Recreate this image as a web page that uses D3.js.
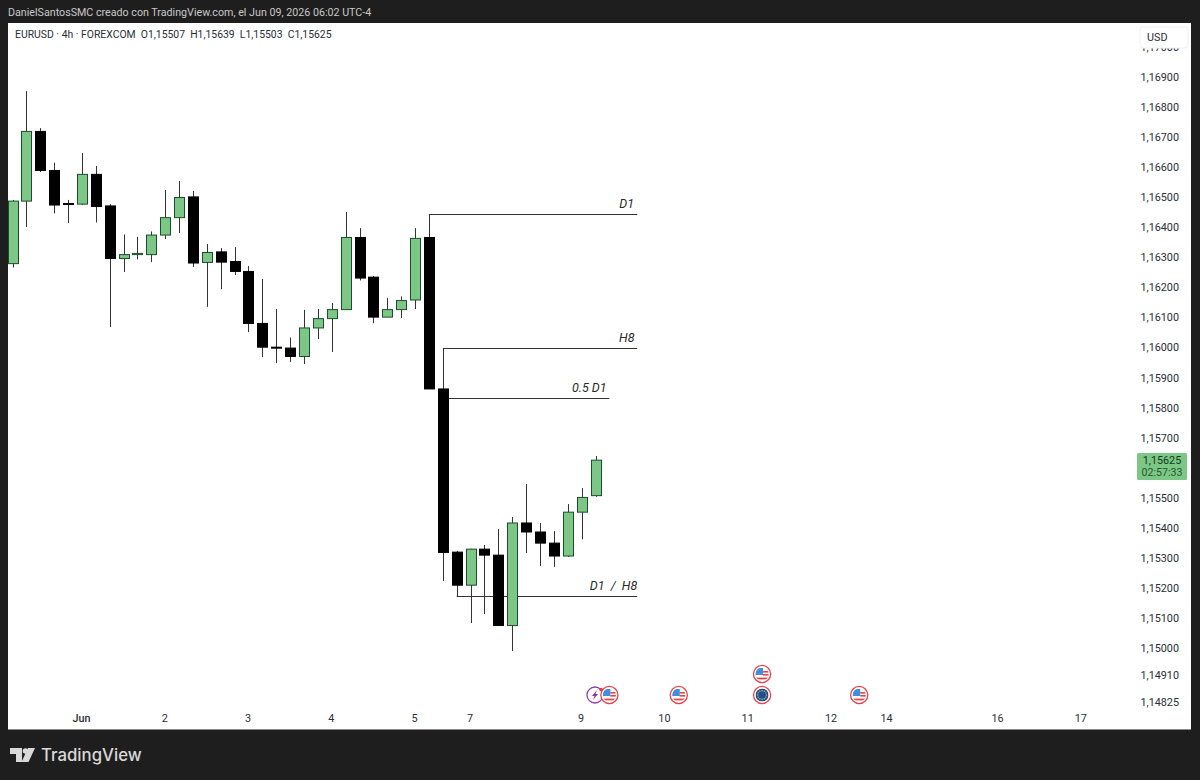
<!DOCTYPE html>
<html>
<head>
<meta charset="utf-8">
<script src="https://cdn.jsdelivr.net/npm/d3@7"></script>
<style>
html,body{margin:0;padding:0;background:#1e1e1e;}
svg{display:block;}
text{font-family:Roboto,"Open Sans",sans-serif;}
</style>
</head>
<body>
<svg id="chart" width="1200" height="780"></svg>
<script>
// ---- data (prices) ----
const opens  = [1.16279,1.16487,1.16719,1.16589,1.16479,1.16477,1.16576,1.16471,1.16296,1.16309,1.16309,1.16374,1.16432,1.16501,1.16283,1.16318,1.16286,1.16253,1.16080,1.16001,1.15998,1.15970,1.16065,1.16096,1.16126,1.16366,1.16234,1.16101,1.16126,1.16158,1.16366,1.15862,1.15319,1.15209,1.15329,1.15309,1.15075,1.15416,1.15386,1.15349,1.15306,1.15452,1.15507];
const highs  = [1.16491,1.16853,1.16730,1.16615,1.16491,1.16647,1.16604,1.16477,1.16376,1.16368,1.16386,1.16524,1.16554,1.16521,1.16344,1.16331,1.16334,1.16271,1.16228,1.16128,1.16033,1.16125,1.16128,1.16148,1.16451,1.16397,1.16238,1.16165,1.16170,1.16397,1.16441,1.15995,1.15323,1.15330,1.15343,1.15396,1.15436,1.15546,1.15416,1.15389,1.15479,1.15532,1.15639];
const lows   = [1.16266,1.16401,1.16584,1.16446,1.16414,1.16474,1.16416,1.16068,1.16251,1.16293,1.16284,1.16361,1.16381,1.16268,1.16135,1.16194,1.16241,1.16051,1.15968,1.15948,1.15952,1.15945,1.16028,1.15985,1.16125,1.16223,1.16081,1.16101,1.16098,1.16128,1.15862,1.15223,1.15173,1.15083,1.15113,1.15075,1.14990,1.15316,1.15273,1.15270,1.15303,1.15362,1.15503];
const closes = [1.16487,1.16719,1.16589,1.16474,1.16476,1.16576,1.16469,1.16296,1.16309,1.16313,1.16374,1.16432,1.16499,1.16281,1.16316,1.16284,1.16253,1.16080,1.16001,1.15998,1.15970,1.16065,1.16096,1.16126,1.16366,1.16231,1.16101,1.16126,1.16156,1.16363,1.15862,1.15318,1.15209,1.15329,1.15309,1.15075,1.15416,1.15386,1.15349,1.15306,1.15452,1.15501,1.15625];

const priceTicks = [1.17,1.169,1.168,1.167,1.166,1.165,1.164,1.163,1.162,1.161,1.16,1.159,1.158,1.157,1.155,1.154,1.153,1.152,1.151,1.15,1.1491,1.14825];
const timeTickLabels = ["Jun","2","3","4","5","7","9","10","11","12","14","16","17"];
const timeTickBars   = [5,11,17,23,29,33,41,47,53,59,63,71,77];

const levelNames  = ["D1","H8","0.5 D1","D1 / H8"];
const levelPrices = [1.16441,1.15995,1.15830,1.15173];
const levelStart  = [30,31,31.45,32];
const levelEnd    = [45,45,43,45];
const levelLabelBar = [44.25,44.25,41.55,43.3];

const eventBars = [42,43,48,54,54,61];
const eventRows = [0,0,0,1,0,0];
const eventKinds= ["bolt","us","us","us","eu","us"];

const lastPriceText = "1,15625";
const countdownText = "02:57:33";
const headerText = "DanielSantosSMC creado con TradingView.com, el Jun 09, 2026 06:02 UTC-4";
const legendText = "EURUSD · 4h · FOREXCOM  O1,15507  H1,15639  L1,15503  C1,15625";
const currencyText = "USD";
const brandText = "TradingView";

// ---- scales ----
const x = d3.scaleLinear().domain([0,42]).range([12.5,595.5]);
const y = d3.scaleLinear().domain([1.169,1.15]).range([77,648]);
const fmt = v => d3.format(".5f")(v).replace(".",",");

const svg = d3.select("#chart");
const UP="#7dc786", UPB="#1d4d2c", DOWN="#000000", WICK="#333333", TXT="#2a2e39";

svg.append("rect").attr("width",1200).attr("height",780).attr("fill","#1e1e1e");
svg.append("rect").attr("x",8).attr("y",23).attr("width",1183).attr("height",706).attr("fill","#ffffff");
svg.append("line").attr("x1",8).attr("x2",1191).attr("y1",729.5).attr("y2",729.5).attr("stroke","#8a8a8a").attr("stroke-width",1);

const defs = svg.append("defs");
defs.append("clipPath").attr("id","plot").append("rect").attr("x",8).attr("y",23).attr("width",1125).attr("height",706);
defs.append("clipPath").attr("id","disc").append("circle").attr("r",6.6);

// header
svg.append("text").attr("x",8).attr("y",16).attr("fill","#c9c9c9").attr("font-size",10.7).text(headerText);
svg.append("text").attr("x",15).attr("y",38).attr("fill",TXT).attr("font-size",10.4).attr("xml:space","preserve").style("white-space","pre").text(legendText);

// levels (under the candles)
const plot = svg.append("g").attr("clip-path","url(#plot)");
const lv = plot.append("g").selectAll("g").data(levelNames).join("g");
lv.append("line")
  .attr("x1",(d,i)=>x(levelStart[i])).attr("x2",(d,i)=>x(levelEnd[i]))
  .attr("y1",(d,i)=>Math.floor(y(levelPrices[i]))+0.5).attr("y2",(d,i)=>Math.floor(y(levelPrices[i]))+0.5)
  .attr("stroke","#333").attr("stroke-width",1);

// candles
const idx = d3.range(opens.length);
const c = plot.append("g").selectAll("g").data(idx).join("g");
c.append("line")
  .attr("x1",i=>Math.round(x(i))+0.5).attr("x2",i=>Math.round(x(i))+0.5)
  .attr("y1",i=>y(highs[i])).attr("y2",i=>y(lows[i]))
  .attr("stroke",WICK).attr("stroke-width",1);
c.append("rect")
  .attr("x",i=>Math.round(x(i))-4.5).attr("width",10)
  .attr("y",i=>y(Math.max(opens[i],closes[i])))
  .attr("height",i=>Math.max(1,Math.abs(y(opens[i])-y(closes[i]))))
  .attr("fill",i=>closes[i]>=opens[i]?UP:DOWN)
  .attr("stroke",i=>closes[i]>=opens[i]?UPB:DOWN)
  .attr("stroke-width",1);

// level labels
svg.append("g").selectAll("text").data(levelNames).join("text")
  .attr("x",(d,i)=>x(levelLabelBar[i]))
  .attr("y",(d,i)=>y(levelPrices[i])-6.5)
  .attr("text-anchor","middle").attr("font-style","italic")
  .attr("font-size",12.5).attr("fill","#2a2a2a").attr("xml:space","preserve").style("white-space","pre")
  .text(d=>d==="D1 / H8"?"D1  /  H8":d);

// price axis
svg.append("g").selectAll("text").data(priceTicks).join("text")
  .attr("x",1179).attr("y",d=>y(d)+(d===1.14825?5.3:4))
  .attr("text-anchor","end")
  .attr("font-size",10.8).attr("fill",TXT).text(fmt);

// time axis
svg.append("g").selectAll("text").data(timeTickLabels).join("text")
  .attr("x",(d,i)=>x(timeTickBars[i])-0.5).attr("y",722).attr("text-anchor","middle")
  .attr("font-size",10.8).attr("fill",TXT)
  .attr("font-weight",d=>d==="Jun"?500:400).text(d=>d);

// USD button
svg.append("rect").attr("x",1140).attr("y",27).attr("width",48).attr("height",21).attr("rx",3)
  .attr("fill","#fff").attr("stroke","#f0f0f0");
svg.append("text").attr("x",1147).attr("y",41).attr("font-size",10.8).attr("fill",TXT).text(currencyText);

// last price tag
svg.append("rect").attr("x",1137).attr("y",453).attr("width",50).attr("height",27).attr("rx",1.5).attr("fill",UP);
svg.append("text").attr("x",1162).attr("y",464).attr("text-anchor","middle").attr("font-size",10.8).attr("fill","#123a1c").text(lastPriceText);
svg.append("text").attr("x",1162).attr("y",476).attr("text-anchor","middle").attr("font-size",10.6).attr("fill","#1f5a2d").text(countdownText);

// events
const ev = svg.append("g").selectAll("g").data(eventBars).join("g")
  .attr("transform",(d,i)=>`translate(${x(d)+(eventKinds[i]==="bolt"?-0.5:0)},${695-eventRows[i]*21})`);
ev.each(function(d,i){
  const g = d3.select(this), k = eventKinds[i];
  if(k==="bolt"){
    g.append("circle").attr("r",8).attr("fill","#fff").attr("stroke","#8b3fb5").attr("stroke-width",1.3);
    g.append("path").attr("d","M2,-5 L-3,1 L-0.5,1 L-2,5 L3,-1 L0.5,-1 Z").attr("fill","#8e2fb8");
    g.append("circle").attr("cx",6).attr("cy",-5.5).attr("r",1.8).attr("fill","#e8384a");
    return;
  }
  g.append("circle").attr("r",8.6).attr("fill","#fff").attr("stroke","#e4454c").attr("stroke-width",1.3);
  const inner = g.append("g").attr("clip-path","url(#disc)");
  if(k==="eu"){
    inner.append("circle").attr("r",6.6).attr("fill","#1b4f95");
    d3.range(12).forEach(a=>{
      const t=a*Math.PI/6;
      inner.append("circle").attr("cx",4.3*Math.cos(t)).attr("cy",4.3*Math.sin(t)).attr("r",0.7).attr("fill","#e2c13a");
    });
  } else {
    inner.append("rect").attr("x",-7).attr("y",-7).attr("width",14).attr("height",14).attr("fill","#fff");
    inner.append("rect").attr("x",-7).attr("y",-6).attr("width",8).attr("height",7).attr("fill","#3f8fdc");
    inner.append("rect").attr("x",1).attr("y",-3).attr("width",7).attr("height",1.6).attr("fill","#e4454c");
    inner.append("rect").attr("x",1).attr("y",0).attr("width",7).attr("height",1.6).attr("fill","#e4454c");
    inner.append("rect").attr("x",-7).attr("y",3.6).attr("width",14).attr("height",1.8).attr("fill","#e4454c");
  }
});

// logo
const logo = svg.append("g").attr("fill","#d9d9d9");
logo.append("path").attr("d","M10,748 H22 V762 H16 V754 H10 Z");
logo.append("circle").attr("cx",25.5).attr("cy",751).attr("r",2.8);
logo.append("path").attr("d","M28,748 H35 L28.5,762 H21.5 Z");
svg.append("text").attr("x",41).attr("y",761).style("font-family","Inter,'Open Sans',sans-serif")
  .attr("font-size",16.8).attr("font-weight",500).attr("fill","#d9d9d9").text(brandText);
</script>
</body>
</html>
